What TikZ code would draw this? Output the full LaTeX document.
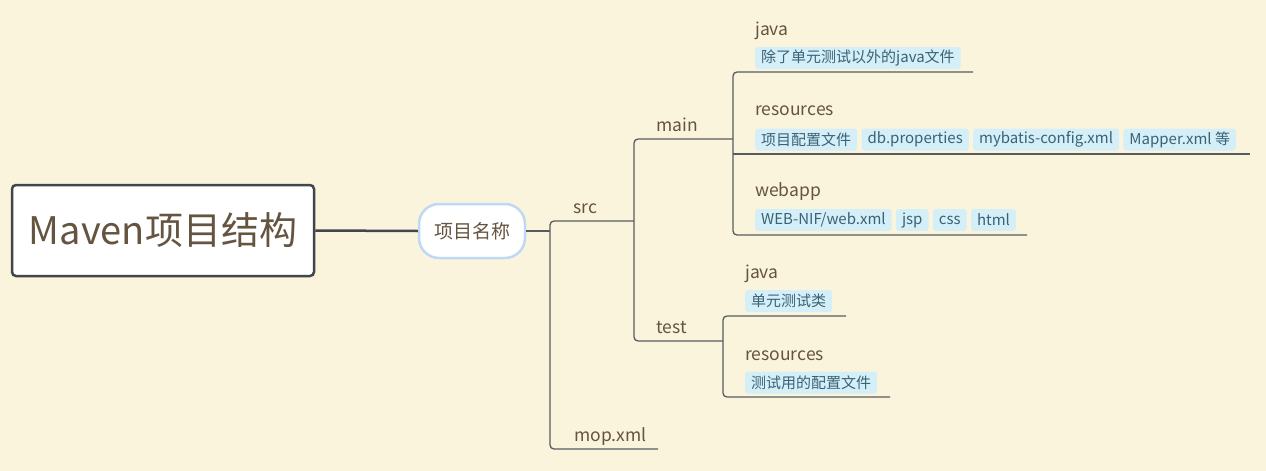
\documentclass[tikz,border=0pt]{standalone}
\usepackage{fontspec}
\setmainfont{Noto Sans CJK SC}
\usetikzlibrary{positioning, calc}

\definecolor{bgcol}{RGB}{251,244,220}
\definecolor{linecol}{RGB}{88,92,96}
\definecolor{rootcol}{RGB}{64,70,77}
\definecolor{textcol}{RGB}{100,84,64}
\definecolor{tagfill}{RGB}{212,239,248}
\definecolor{tagtext}{RGB}{58,98,118}
\definecolor{projcol}{RGB}{190,216,246}

\begin{document}
\begin{tikzpicture}[x=1pt, y=-1pt, node distance=4pt,
        branch/.style={draw=linecol, line width=1.3pt, rounded corners=4pt},
        item_label/.style={anchor=base west, inner sep=0pt, text=textcol, font=\fontsize{17.5}{20}\selectfont},
        tag/.style={fill=tagfill, text=tagtext, rounded corners=3pt, inner xsep=6pt, inner ysep=0pt,
            minimum height=22pt, font=\fontsize{15}{18}\selectfont}]

        % Background and bounding box
        \fill[bgcol] (0,0) rectangle (1266,471);
        \useasboundingbox (0,0) rectangle (1266,471);

        % Root and project nodes
        \node[draw=rootcol, fill=white, line width=2.5pt, rounded corners=4pt, minimum width=302pt,
            minimum height=91pt, text=textcol, font=\fontsize{38}{44}\selectfont] (root) at (163,230.5) {Maven项目结构};
        \node[draw=projcol, fill=white, line width=2.5pt, rounded corners=20pt, minimum width=106pt,
            minimum height=54pt, text=textcol, font=\fontsize{19}{22}\selectfont] (proj) at (472,231) {项目名称};

        % Underline end points of each branch
        \coordinate (src_l) at (550,221);   \coordinate (src_r) at (634,221);
        \coordinate (mop_l) at (550,449);   \coordinate (mop_r) at (658,449);
        \coordinate (main_l) at (634,139);  \coordinate (main_r) at (733,139);
        \coordinate (test_l) at (634,341);  \coordinate (test_r) at (723,341);
        \coordinate (mjava_l) at (733,72);  \coordinate (mjava_r) at (973,72);
        \coordinate (mres_l) at (733,154);  \coordinate (mres_r) at (1250,154);
        \coordinate (mweb_l) at (733,235);  \coordinate (mweb_r) at (1027,235);
        \coordinate (tjava_l) at (723,316); \coordinate (tjava_r) at (846,316);
        \coordinate (tres_l) at (723,397);  \coordinate (tres_r) at (890,397);

        % Branch labels
        \node[item_label] (src) at (573,213) {src};
        \node[item_label] (mop) at (574,441) {mop.xml};
        \node[item_label] (main) at (656,131) {main};
        \node[item_label] (test) at (656,333) {test};
        \node[item_label] (mjava) at (755,35) {java};
        \node[item_label] (mres) at (755,115) {resources};
        \node[item_label] (mweb) at (755,196) {webapp};
        \node[item_label] (tjava) at (745,278) {java};
        \node[item_label] (tres) at (745,360) {resources};

        % Tags under main
        \node[tag, anchor=west] (mjava_t1) at (755,58) {除了单元测试以外的java文件};
        \node[tag, anchor=west] (mres_t1) at (755,139.5) {项目配置文件};
        \node[tag, right=of mres_t1] (mres_t2) {db.properties};
        \node[tag, right=of mres_t2] (mres_t3) {mybatis-config.xml};
        \node[tag, right=of mres_t3] (mres_t4) {Mapper.xml 等};
        \node[tag, anchor=west] (mweb_t1) at (755,220) {WEB-NIF/web.xml};
        \node[tag, right=of mweb_t1] (mweb_t2) {jsp};
        \node[tag, right=of mweb_t2] (mweb_t3) {css};
        \node[tag, right=of mweb_t3] (mweb_t4) {html};

        % Tags under test
        \node[tag, anchor=west] (tjava_t1) at (745,301) {单元测试类};
        \node[tag, anchor=west] (tres_t1) at (745,382.5) {测试用的配置文件};

        % Connectors
        \draw[rootcol, line width=2.5pt] (root.east) -- (proj.west);
        \draw[branch] (proj.east) -- (proj.east -| src_l);
        \draw[branch] (src_r) -- (src_l) -- (mop_l) -- (mop_r);
        \draw[branch] (main_r) -- (main_l) -- (test_l) -- (test_r);
        \draw[branch] (mjava_r) -- (mjava_l) -- (mweb_l) -- (mweb_r);
        \draw[branch] (mres_l) -- (mres_r);
        \draw[branch] (tjava_r) -- (tjava_l) -- (tres_l) -- (tres_r);
    \end{tikzpicture}
\end{document}
